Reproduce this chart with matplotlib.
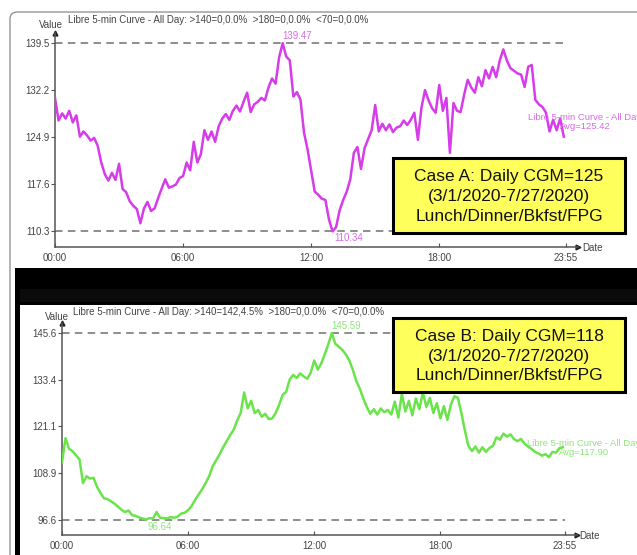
import numpy as np
import matplotlib
matplotlib.use("Agg")
import matplotlib.pyplot as plt
from matplotlib.patches import Rectangle, FancyBboxPatch

plt.rcParams['font.family'] = ['Liberation Sans', 'DejaVu Sans']

# 10-minute glucose curves, mg/dL
case_a = [
    131.0, 127.5, 128.6, 127.8, 129.0, 127.2, 128.3, 125.0, 125.8, 125.2,
    124.4, 124.8, 123.6, 121.0, 119.2, 118.2, 119.4, 118.3, 120.8, 116.9,
    116.4, 115.0, 114.3, 113.8, 111.6, 113.9, 114.9, 113.5, 113.9, 115.5,
    117.0, 118.4, 117.1, 117.3, 117.6, 118.6, 118.9, 121.0, 119.8, 124.2,
    121.0, 122.3, 126.0, 124.5, 125.8, 124.2, 126.6, 127.8, 128.5, 127.6,
    129.0, 129.8, 128.9, 130.4, 131.8, 128.8, 130.0, 130.4, 131.0, 130.6,
    132.6, 134.0, 133.2, 137.3, 139.47, 137.4, 136.8, 131.2, 131.9, 130.7,
    125.6, 123.0, 119.8, 116.5, 116.0, 115.4, 115.2, 112.2, 110.34, 111.0,
    113.6, 115.2, 116.5, 118.4, 122.5, 123.4, 120.0, 123.2, 124.6, 126.0,
    129.9, 125.8, 127.0, 126.0, 126.9, 125.7, 126.4, 126.6, 127.5, 126.8,
    127.6, 128.7, 124.5, 129.5, 132.2, 130.6, 129.4, 128.7, 133.0, 129.0,
    131.0, 122.5, 130.2, 129.0, 128.8, 131.5, 133.8, 132.6, 131.8, 134.2,
    132.8, 135.3, 134.0, 135.8, 134.2, 136.8, 138.5, 136.8, 135.6, 135.2,
    134.8, 134.6, 132.7, 135.8, 136.1, 130.7, 130.0, 129.6, 128.7, 125.8,
    127.6, 126.0, 127.8, 125.0,
]
case_b = [
    111.6, 118.0, 115.2, 114.6, 113.5, 112.4, 106.2, 108.0, 107.4, 107.6,
    105.2, 103.6, 102.2, 102.0, 101.4, 100.8, 100.0, 99.2, 98.6, 99.0,
    97.8, 97.6, 97.2, 96.9, 96.64, 97.0, 96.9, 98.6, 97.1, 97.0,
    96.9, 97.3, 97.1, 97.4, 98.2, 98.4, 99.1, 100.2, 101.8, 103.2,
    104.6, 106.2, 108.0, 110.6, 112.2, 113.8, 115.6, 117.2, 118.8, 120.2,
    122.6, 124.6, 130.0, 125.8, 127.8, 124.6, 125.4, 123.6, 124.4, 123.0,
    123.2, 124.6, 126.8, 129.4, 130.2, 133.4, 134.6, 133.8, 135.0, 134.2,
    133.6, 135.2, 138.4, 136.0, 137.6, 140.0, 142.6, 145.59, 142.8, 142.0,
    141.2, 140.0, 138.4, 136.0, 133.0, 131.0, 128.4, 126.2, 124.4, 125.6,
    124.2, 125.8, 124.8, 125.4, 124.2, 127.6, 123.4, 129.6, 125.0, 127.8,
    124.0, 128.4, 125.6, 130.0, 126.2, 128.6, 124.6, 127.2, 123.2, 126.4,
    122.8, 126.8, 129.0, 128.6, 124.6, 120.0, 116.0, 114.6, 115.8, 114.2,
    115.6, 114.4, 115.4, 116.0, 118.2, 117.6, 119.2, 118.4, 119.0, 117.8,
    117.2, 117.8, 116.6, 115.8, 115.2, 114.4, 114.0, 113.4, 113.8, 113.0,
    114.4, 114.2, 115.4, 115.6,
]
avg_a = 125.42
avg_b = 117.90

tick_minutes = [0, 360, 720, 1080, 1435]
tick_names = ['00:00', '06:00', '12:00', '18:00', '23:55']

title_a = 'Libre 5-min Curve - All Day: >140=0,0.0%  >180=0,0.0%  <70=0,0.0%'
title_b = 'Libre 5-min Curve - All Day: >140=142,4.5%  >180=0,0.0%  <70=0,0.0%'
box_a = 'Case A: Daily CGM=125\n(3/1/2020-7/27/2020)\nLunch/Dinner/Bkfst/FPG'
box_b = 'Case B: Daily CGM=118\n(3/1/2020-7/27/2020)\nLunch/Dinner/Bkfst/FPG'

W, H = 637, 555
fig = plt.figure(figsize=(W / 100, H / 100), dpi=100)


def px(x, y):
    return x / W, 1 - y / H


# background: rounded frame, black separator band
fig.patches.append(FancyBboxPatch(px(10, 700), 800 / W, 688 / H,
                                  boxstyle='round,pad=0,rounding_size=0.012',
                                  transform=fig.transFigure, fc='white',
                                  ec='#8a8a8a', lw=0.9, zorder=-2))
fig.patches.append(Rectangle(px(15, 305), (W - 15) / W, 37 / H,
                             transform=fig.transFigure, fc='black', ec='none', zorder=-1))
fig.patches.append(Rectangle(px(15, 302), (W - 15) / W, 13 / H,
                             transform=fig.transFigure, fc='#0b0b0b', ec='none', zorder=-1))
fig.patches.append(Rectangle(px(15, H), 5 / W, (H - 268) / H,
                             transform=fig.transFigure, fc='black', ec='none', zorder=-1))

GRAY = '#555555'
TXT = '#444444'


def panel(rect, values, color, label_color, title, tpos, vpos, dpos, legpos, avg, boxrect, boxtext):
    x0, ytop, x1, ybot = rect
    ax = fig.add_axes([x0 / W, 1 - ybot / H, (x1 - x0) / W, (ybot - ytop) / H])
    ax.patch.set_alpha(0)
    vals = np.array(values)
    mins = np.arange(len(vals)) * 10
    vmin, vmax = vals.min(), vals.max()
    rng = vmax - vmin
    ax.set_xlim(0, 1470)
    ax.set_ylim(vmin - 0.083 * rng, vmax + 0.054 * rng)

    ax.plot(mins, vals, color=color, lw=1.8, zorder=3, solid_joinstyle='round')
    for v in (vmin, vmax):
        ax.plot([0, 1435], [v, v], color='#7a7a7a', lw=1.2, dashes=(4.5, 3.2), zorder=2)

    imax, imin = vals.argmax(), vals.argmin()
    ax.annotate(f'{vmax:.2f}', (mins[imax], vmax), xytext=(0, 1.5), textcoords='offset points',
                ha='left', va='bottom', fontsize=7, color=label_color)
    ax.annotate(f'{vmin:.2f}', (mins[imin], vmin), xytext=(1, -1.5), textcoords='offset points',
                ha='left', va='top', fontsize=7, color=label_color)

    yt = np.linspace(vmin, vmax, 5)
    ax.set_yticks(yt)
    ax.set_yticklabels([f'{v:.1f}' for v in yt])
    ax.set_xticks(tick_minutes)
    ax.set_xticklabels(tick_names)
    ax.tick_params(axis='y', direction='out', length=3, width=0.8, pad=1,
                   labelsize=7, colors=GRAY, labelcolor=TXT)
    ax.tick_params(axis='x', direction='in', length=3, width=0.8, pad=4,
                   labelsize=7, colors=GRAY, labelcolor=TXT)
    for s in ('top', 'right'):
        ax.spines[s].set_visible(False)
    for s in ('left', 'bottom'):
        ax.spines[s].set_color(GRAY)
        ax.spines[s].set_linewidth(1.1)
    ax.plot(1, 0, '>', color='#222222', ms=3.5, transform=ax.transAxes, clip_on=False)
    ax.plot(0, 1, '^', color='#222222', ms=3.5, transform=ax.transAxes, clip_on=False)

    fig.text(*px(*tpos), title, ha='left', va='center', fontsize=7, color=TXT)
    fig.text(*px(*vpos), 'Value', ha='right', va='center', fontsize=7, color=TXT)
    fig.text(*px(*dpos), 'Date', ha='left', va='center', fontsize=7, color=TXT)
    # series legend sits at the end of the curve and runs past the right edge
    fig.text(*px(*legpos), f'Libre 5-min Curve - All Day\nAvg={avg:.2f}', ha='center', va='center',
             fontsize=6.8, color=label_color, linespacing=1.05, zorder=4)

    bx0, by0, bx1, by1 = boxrect
    fig.patches.append(Rectangle(px(bx0, by1), (bx1 - bx0) / W, (by1 - by0) / H,
                                 transform=fig.transFigure, fc='#ffff5c', ec='black',
                                 lw=2.2, zorder=5))
    fig.text(*px((bx0 + bx1) / 2, (by0 + by1) / 2 + 1), boxtext, ha='center', va='center',
             fontsize=12.5, color='#111111', linespacing=1.4, zorder=6)
    return ax


panel((55, 33, 578, 247), case_a, '#d63ce9', '#d86ae6', title_a,
      (68, 20), (63, 25), (582, 248), (585, 122), avg_a,
      (393, 158, 625, 233), box_a)
panel((62, 323, 577, 535), case_b, '#6be34a', '#8ee57a', title_b,
      (73, 312), (69, 317), (579, 536), (584, 448), avg_b,
      (393, 318, 625, 392), box_b)

fig.savefig('out.png', dpi=100)
